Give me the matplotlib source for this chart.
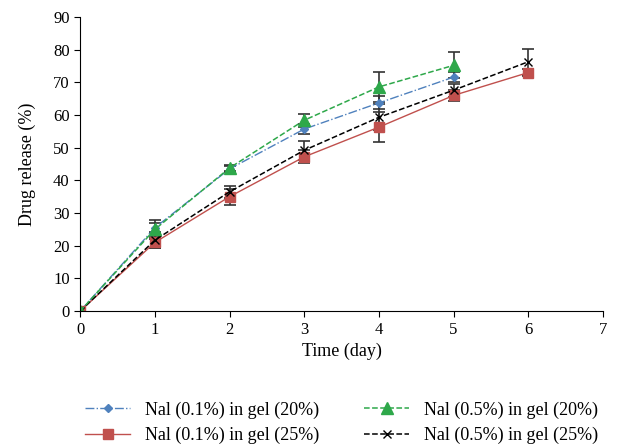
import matplotlib
matplotlib.use("Agg")
import matplotlib.pyplot as plt

plt.rcParams['font.family'] = ['Liberation Serif', 'DejaVu Serif']

days_a = [0, 1, 2, 3, 4, 5]
days_b = [0, 1, 2, 3, 4, 5, 6]

blue_y = [0, 25.5, 43.5, 55.7, 63.7, 71.6]
blue_err = [0, 1.5, 1.0, 1.5, 2.0, 1.5]
green_y = [0, 25.0, 43.8, 58.4, 68.6, 75.2]
green_err = [0, 2.8, 1.0, 2.0, 4.5, 4.0]
red_y = [0, 21.0, 35.0, 47.2, 56.3, 66.0, 73.0]
red_err = [0, 1.8, 2.5, 2.0, 4.5, 1.8, 1.0]
black_y = [0, 21.7, 36.5, 49.2, 59.3, 67.6, 76.3]
black_err = [0, 2.5, 1.8, 3.0, 4.0, 2.0, 4.0]

labels = ["Nal (0.1%) in gel (20%)", "Nal (0.5%) in gel (20%)",
          "Nal (0.1%) in gel (25%)", "Nal (0.5%) in gel (25%)"]

fig = plt.figure(figsize=(6.21, 4.47), dpi=100)
ax = fig.add_axes([0.129, 0.304, 0.842, 0.658])

ekw = dict(ecolor="#333333", elinewidth=1.2, capsize=4, capthick=1.2)
h_blue = ax.errorbar(days_a, blue_y, yerr=blue_err, color="#4F81BD", ls="-.",
                     lw=1, marker="D", ms=4, **ekw)
h_red = ax.errorbar(days_b, red_y, yerr=red_err, color="#C0504D", ls="-",
                    lw=1, marker="s", ms=7, **ekw)
h_black = ax.errorbar(days_b, black_y, yerr=black_err, color="black", ls="--",
                      lw=1.1, marker="x", ms=6, **ekw)
h_green = ax.errorbar(days_a, green_y, yerr=green_err, color="#2EA84A", ls="--",
                      lw=1.1, marker="^", ms=9, **ekw)

ax.set_xlim(0, 7)
ax.set_ylim(0, 90)
ax.set_xticks(range(0, 8))
ax.set_yticks(range(0, 100, 10))
ax.spines['top'].set_visible(False)
ax.spines['right'].set_visible(False)
ax.tick_params(direction='out', labelsize=12, length=4)
ax.set_xlabel("Time (day)", fontsize=13)
ax.set_ylabel("Drug release (%)", fontsize=13, labelpad=12)

fig.legend([h_blue[0], h_red[0], h_green[0], h_black[0]],
           [labels[0], labels[2], labels[1], labels[3]],
           ncol=2, loc="lower center", bbox_to_anchor=(0.55, -0.03),
           frameon=False, fontsize=13, handlelength=2.5,
           columnspacing=2.5, labelspacing=0.45)

fig.savefig("out.png", dpi=100)
